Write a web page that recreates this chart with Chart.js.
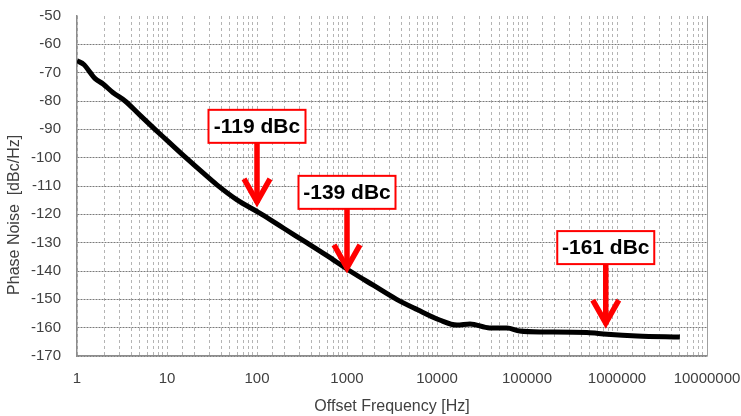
<!DOCTYPE html>
<html>
<head>
<meta charset="utf-8">
<script src="https://cdn.jsdelivr.net/npm/chart.js@4.4.1/dist/chart.umd.min.js"></script>
<style>
  html, body { margin: 0; padding: 0; background: #fff; }
  #wrap { width: 741px; height: 416px; }
</style>
</head>
<body>
<div id="wrap"><canvas id="noiseChart" width="741" height="416"></canvas></div>
<script>
// Offset frequency [Hz] and phase noise [dBc/Hz]
const freqs = [1, 1.2, 1.39, 1.58, 1.95, 2.5, 3.42, 5, 7.35, 10, 16.2, 25, 35.9, 60, 100, 113, 200, 356, 600,
  1080, 2000, 3560, 6000, 10700, 16700, 23300, 38500, 60000, 83000, 139000, 196000, 464000, 776000,
  1670000, 5000000];
const noise = [-65.8, -67.2, -69.8, -72.0, -74.0, -77.0, -80.0, -85.0, -90.0, -93.9, -100.0, -105.3, -109.6,
  -114.9, -119.0, -120.0, -125.0, -130.0, -134.6, -140.0, -145.2, -150.0, -153.6, -157.3, -159.1, -158.7,
  -160.1, -160.1, -161.2, -161.5, -161.5, -161.7, -162.3, -162.9, -163.3];

// Callouts
const calloutLabels = ['-119 dBc', '-139 dBc', '-161 dBc'];
const calloutFreqs = [100, 1000, 750000];
const calloutTips = [-117, -140.3, -159.8];

const yMin = -170, yMax = -50, yStep = 10;

const calloutPlugin = {
  id: 'callouts',
  afterDatasetsDraw(chart) {
    const ctx = chart.ctx;
    const xs = chart.scales.x, ys = chart.scales.y;
    ctx.save();
    calloutLabels.forEach((txt, i) => {
      const tx = xs.getPixelForValue(calloutFreqs[i]);
      const ty = ys.getPixelForValue(calloutTips[i]);
      const boxBottom = ty - 63;
      const bw = 97, bh = 33;
      // arrow
      ctx.strokeStyle = '#ff0000';
      ctx.lineWidth = 5.5;
      ctx.lineJoin = 'miter';
      ctx.beginPath();
      ctx.moveTo(tx, boxBottom);
      ctx.lineTo(tx, ty - 3);
      ctx.stroke();
      ctx.beginPath();
      ctx.moveTo(tx - 13, ty - 27);
      ctx.lineTo(tx, ty - 4);
      ctx.lineTo(tx + 13, ty - 27);
      ctx.stroke();
      // box
      ctx.fillStyle = '#ffffff';
      ctx.fillRect(tx - bw / 2, boxBottom - bh, bw, bh);
      ctx.lineWidth = 2;
      ctx.strokeRect(tx - bw / 2, boxBottom - bh, bw, bh);
      ctx.fillStyle = '#000000';
      ctx.font = 'bold 21px "Liberation Sans", Arial, sans-serif';
      ctx.textAlign = 'center';
      ctx.textBaseline = 'middle';
      ctx.fillText(txt, tx, boxBottom - bh / 2 + 1);
    });
    ctx.restore();
  }
};

const whiteBg = {
  id: 'whiteBg',
  beforeDraw(chart) {
    const c = chart.ctx;
    c.save();
    c.fillStyle = '#fff';
    c.fillRect(0, 0, chart.width, chart.height);
    c.restore();
  }
};

// right-hand frame line of the plot
const rightEdge = {
  id: 'rightEdge',
  afterDraw(chart) {
    const { right, top, bottom } = chart.chartArea;
    const c = chart.ctx;
    c.save();
    c.strokeStyle = '#a0a0a0';
    c.lineWidth = 1;
    c.beginPath();
    c.moveTo(right + 0.5, top);
    c.lineTo(right + 0.5, bottom);
    c.stroke();
    c.restore();
  }
};

const family = '"Liberation Sans", Arial, sans-serif';

new Chart(document.getElementById('noiseChart').getContext('2d'), {
  type: 'line',
  data: {
    datasets: [{
      data: freqs.map((f, i) => ({ x: f, y: noise[i] })),
      borderColor: '#000',
      borderWidth: 5,
      pointRadius: 0,
      cubicInterpolationMode: 'monotone',
      fill: false
    }]
  },
  options: {
    responsive: false,
    animation: false,
    layout: { padding: { left: 5, right: 0, top: 0, bottom: 0 } },
    plugins: { legend: { display: false }, tooltip: { enabled: false } },
    scales: {
      x: {
        type: 'logarithmic',
        min: 1,
        max: 10000000,
        afterFit(scale) {
          scale.height = 60;
          scale.paddingLeft = 0;
          scale.paddingRight = 34;
        },
        ticks: {
          autoSkip: false,
          maxRotation: 0,
          padding: 14,
          color: '#404040',
          font: { family, size: 15 },
          callback(value) {
            const l = Math.log10(value);
            return Math.abs(l - Math.round(l)) < 1e-9 ? String(Math.round(value)) : '';
          }
        },
        grid: { color: '#b4b4b4', lineWidth: 1, drawTicks: false },
        border: { display: true, color: '#8c8c8c', width: 1.5, dash: [3, 3] },
        title: { display: true, text: 'Offset Frequency [Hz]', color: '#404040', font: { family, size: 16 }, padding: { top: 4, bottom: 0 } }
      },
      y: {
        min: yMin,
        max: yMax,
        afterFit(scale) {
          scale.width = 72;
          scale.paddingTop = 16;
          scale.paddingBottom = 0;
        },
        ticks: { stepSize: yStep, padding: 16, color: '#404040', font: { family, size: 15 } },
        grid: {
          color: (c) => (c.tick && c.tick.value === yMax) ? 'rgba(0,0,0,0)' : '#7a7a7a',
          lineWidth: 1,
          drawTicks: false
        },
        border: { display: true, color: '#8c8c8c', width: 1.5, dash: [2, 1] },
        title: { display: true, text: 'Phase Noise  [dBc/Hz]             ', color: '#404040', font: { family, size: 16 }, padding: { top: 0, bottom: 0 } }
      }
    }
  },
  plugins: [whiteBg, calloutPlugin, rightEdge]
});
</script>
</body>
</html>
